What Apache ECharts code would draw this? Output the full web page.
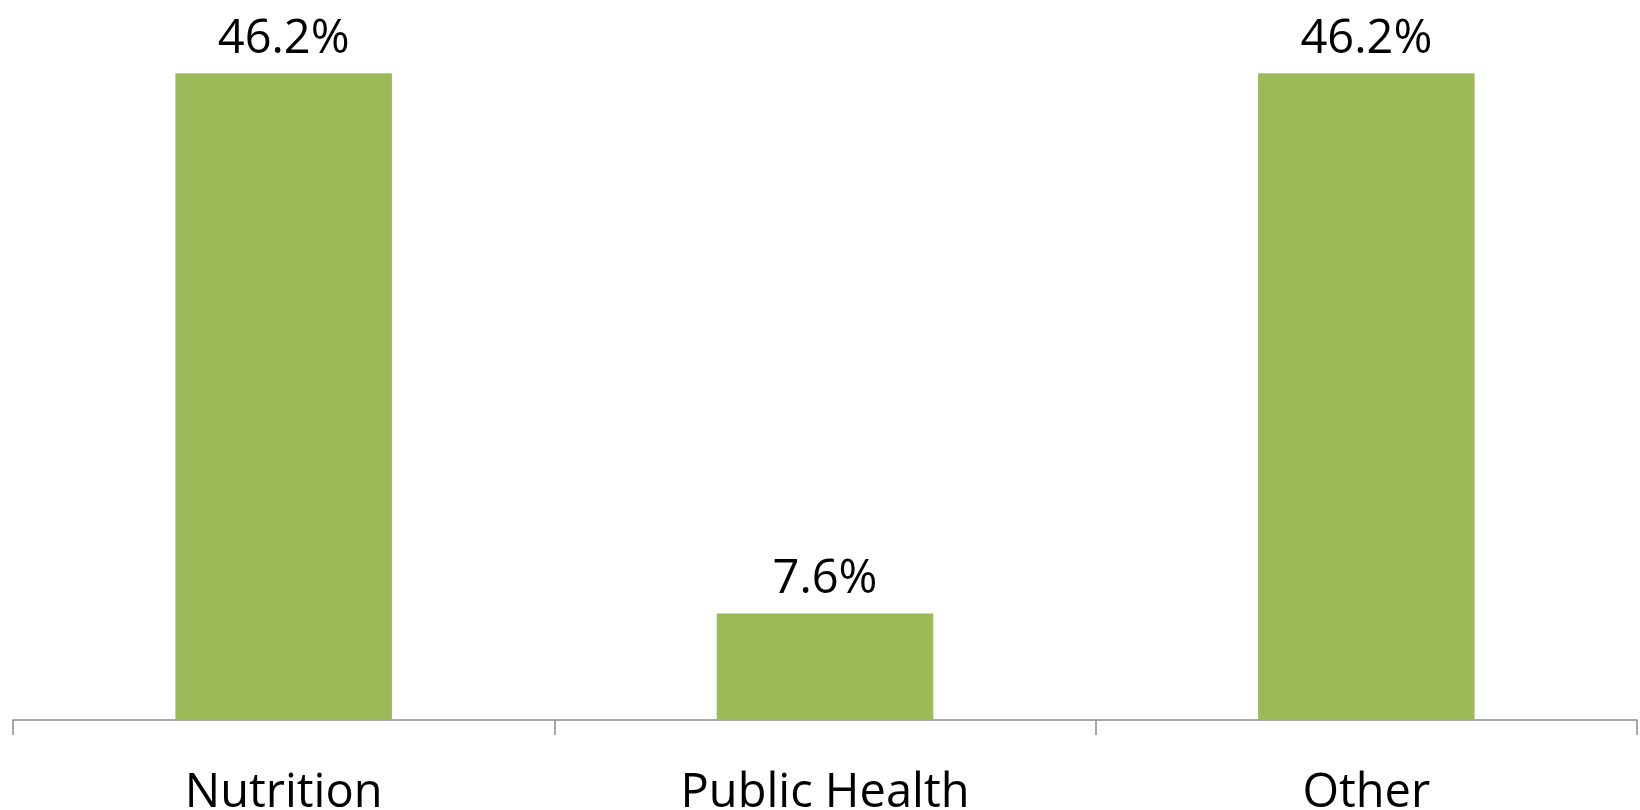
<!DOCTYPE html>
<html>
<head>
<meta charset="utf-8">
<script src="https://cdn.jsdelivr.net/npm/echarts@6/dist/echarts.min.js"></script>
<style>
  html, body { margin: 0; padding: 0; background: #fff; }
  #chart { width: 1640px; height: 810px; }
</style>
</head>
<body>
<div id="chart"></div>
<script>
// categories and their shares (%)
const categories = ['Nutrition', 'Public Health', 'Other'];
const shares = [46.2, 7.6, 46.2];

var chart = echarts.init(document.getElementById('chart'));
chart.setOption({
  animation: false,
  grid: { left: 13, right: 3, top: 20, bottom: 90, outerBoundsMode: 'none', containLabel: false },
  xAxis: {
    type: 'category',
    data: categories,
    axisLine: { lineStyle: { color: '#8c8c8c', width: 1.5 } },
    axisTick: { show: true, alignWithLabel: false, length: 15, lineStyle: { color: '#8c8c8c', width: 1.5 } },
    axisLabel: {
      color: '#000',
      fontFamily: 'Open Sans',
      fontSize: 47,
      margin: 50
    }
  },
  yAxis: {
    type: 'value',
    min: 0,
    max: 50,
    show: false
  },
  series: [{
    type: 'bar',
    data: shares,
    barCategoryGap: '60%',
    itemStyle: { color: '#9bbb59' },
    label: {
      show: true,
      position: 'top',
      distance: 10,
      color: '#000',
      fontFamily: 'Open Sans',
      fontSize: 47,
      formatter: function (p) { return p.value.toFixed(1) + '%'; }
    }
  }]
});
</script>
</body>
</html>
